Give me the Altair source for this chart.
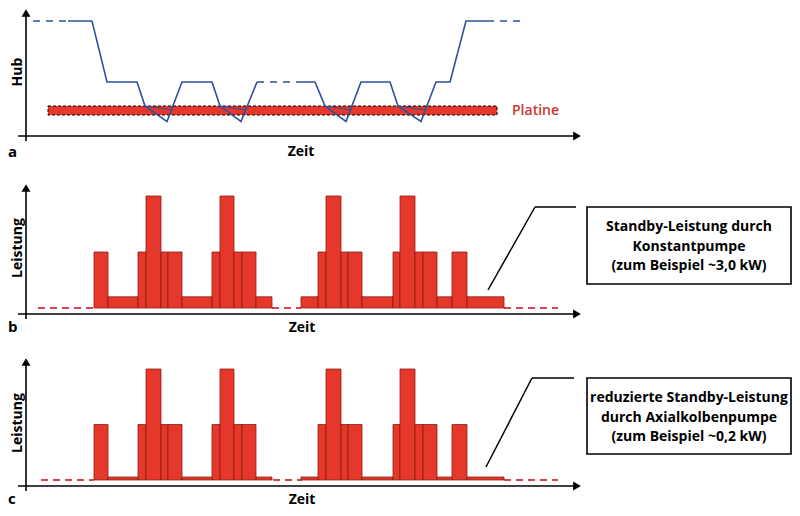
import altair as alt
import pandas as pd

# ---------------- data (time t in arbitrary units) ----------------
# Panel a: stroke ("Hub") of the slide
hub_pre_t = [7, 42]
hub_pre_v = [115, 115]
hub_main1_t = [42, 66, 81, 111, 119, 141, 156, 186, 194, 215, 231]
hub_main1_v = [115, 115, 54, 54, 30, 14.5, 54, 54, 30, 14.5, 54]
hub_mid_t = [231, 274]
hub_mid_v = [54, 54]
hub_main2_t = [274, 289, 299, 320, 335, 364, 372, 395, 410, 424, 440, 461]
hub_main2_v = [54, 54, 30, 14.5, 54, 54, 30, 14.5, 54, 54, 115, 115]
hub_post_t = [461, 496]
hub_post_v = [115, 115]
# contact segments along the platen
contact_t0 = [119, 194, 299, 372]
contact_t1 = [145.6, 219.7, 324.7, 399.7]
contact_v0 = [30, 30, 30, 30]
contact_v1 = [26, 26, 26, 26]
# platen band
platine_t = [22, 471]
platine_v = [21, 30]

# Panels b / c: power ("Leistung") blocks
bar_edges = [68, 82, 112, 120, 135, 142, 156, 186, 194, 208, 216, 230, 246,
             None,
             275, 292, 300, 315, 322, 336, 367, 374, 389, 397, 411, 426, 441, 478]
bar_levels_1 = ["M", "L", "M", "T", "M", "M", "L", "M", "T", "M", "M", "L"]
bar_levels_2 = ["L", "M", "T", "M", "M", "L", "M", "T", "M", "M", "L", "M", "L"]
kw_b = {"L": 3.0, "M": 15, "T": 30}
kw_c = {"L": 0.8, "M": 15, "T": 30}
dash_b_t0 = [12, 246, 478]
dash_b_t1 = [68, 275, 532]
dash_c_t0 = [15, 247, 478]
dash_c_t1 = [68, 276, 532]

box_b_text = ["Standby-Leistung durch", "Konstantpumpe", "(zum Beispiel ~3,0 kW)"]
box_c_text = ["reduzierte Standby-Leistung", "durch Axialkolbenpumpe", "(zum Beispiel ~0,2 kW)"]

# ---------------- tables ----------------
rows = []
for seg, style, ts, vs in [("pre", "dashed", hub_pre_t, hub_pre_v),
                           ("m1", "solid", hub_main1_t, hub_main1_v),
                           ("mid", "dashed", hub_mid_t, hub_mid_v),
                           ("m2", "solid", hub_main2_t, hub_main2_v),
                           ("post", "dashed", hub_post_t, hub_post_v)]:
    for i, (t, v) in enumerate(zip(ts, vs)):
        rows.append({"t": t, "hub": v, "seg": seg, "style": style, "i": i})
hub_df = pd.DataFrame(rows)
contact_df = pd.DataFrame({"t0": contact_t0, "t1": contact_t1, "v0": contact_v0, "v1": contact_v1})
platine_df = pd.DataFrame({"t0": [platine_t[0]], "t1": [platine_t[1]],
                           "v0": [platine_v[0]], "v1": [platine_v[1]]})

first = bar_edges[:bar_edges.index(None)]
second = bar_edges[bar_edges.index(None) + 1:]


def bars(kw):
    r = []
    for edges, levels in [(first, bar_levels_1), (second, bar_levels_2)]:
        for k, lev in enumerate(levels):
            r.append({"t0": edges[k], "t1": edges[k + 1], "kw": kw[lev], "base": 0})
    return pd.DataFrame(r)


bars_b = bars(kw_b)
bars_c = bars(kw_c)
dash_b = pd.DataFrame({"t0": dash_b_t0, "t1": dash_b_t1, "base": 0})
dash_c = pd.DataFrame({"t0": dash_c_t0, "t1": dash_c_t1, "base": 0})

one = pd.DataFrame({"k": [0]})

# ---------------- style ----------------
FONT = "Open Sans"
RED = "#e6372b"
DARKRED = "#8c1c13"
DASHRED = "#d64550"
BLUE = "#2f4f9f"
W = 784
xs = alt.Scale(domain=[0, 556], range=[18, 574])


def axes(y_axis, y_top, y_bottom):
    xr = alt.Chart(one).mark_rule(color="black", strokeWidth=1.6).encode(
        x=alt.value(10), x2=alt.value(566), y=alt.value(y_axis), y2=alt.value(y_axis))
    xa = alt.Chart(one).mark_point(shape="triangle-right", filled=True, size=80, color="black",
                                   opacity=1, strokeWidth=0).encode(
        x=alt.value(569), y=alt.value(y_axis))
    yr = alt.Chart(one).mark_rule(color="black", strokeWidth=1.6).encode(
        x=alt.value(18), x2=alt.value(18), y=alt.value(y_bottom), y2=alt.value(y_top + 4))
    ya = alt.Chart(one).mark_point(shape="triangle-up", filled=True, size=80, color="black",
                                   opacity=1, strokeWidth=0).encode(
        x=alt.value(18), y=alt.value(y_top + 5))
    return [xr, xa, yr, ya]


def label(text, x, y, size=14, angle=0, align="center", baseline="alphabetic",
          color="black", weight="bold"):
    return alt.Chart(one).mark_text(font=FONT, fontSize=size, fontWeight=weight, angle=angle,
                                    align=align, baseline=baseline, color=color).encode(
        x=alt.value(x), y=alt.value(y), text=alt.value(text))


# ---------------- panel a ----------------
ys_a = alt.Scale(domain=[0, 115], range=[128, 13])
platine = alt.Chart(platine_df).mark_rect(fill=RED, stroke="black", strokeWidth=1,
                                          strokeDash=[3, 2]).encode(
    x=alt.X("t0:Q", scale=xs, axis=None), x2="t1:Q",
    y=alt.Y("v0:Q", scale=ys_a, axis=None), y2="v1:Q")
hubline = alt.Chart(hub_df).mark_line(color=BLUE, strokeWidth=1.6).encode(
    x=alt.X("t:Q", scale=xs, axis=None),
    y=alt.Y("hub:Q", scale=ys_a, axis=None),
    detail="seg:N",
    order="i:Q",
    strokeDash=alt.StrokeDash("style:N", scale=alt.Scale(domain=["solid", "dashed"],
                                                         range=[[1, 0], [7, 6]]), legend=None))
contact = alt.Chart(contact_df).mark_rule(color=BLUE, strokeWidth=1.2).encode(
    x=alt.X("t0:Q", scale=xs, axis=None), x2="t1:Q",
    y=alt.Y("v0:Q", scale=ys_a, axis=None), y2="v1:Q")

panel_a = alt.layer(
    *axes(128, 0, 133), platine, hubline, contact,
    label("Platine", 504, 103, size=14, align="left", baseline="middle",
          color="#c8372d", weight=600),
    label("Hub", 10, 64, size=14, angle=270, baseline="middle"),
    label("Zeit", 293, 148),
    label("a", 0, 149, size=15, align="left"),
).properties(width=W, height=164)


# ---------------- panels b / c ----------------
def power_panel(bars_df, dash_df, ys, y_axis, y_top, y_bottom, lead, box, text_y, letter,
                lei_y, text_base, lines):
    rects = alt.Chart(bars_df).mark_rect(fill=RED, stroke=DARKRED, strokeWidth=0.8).encode(
        x=alt.X("t0:Q", scale=xs, axis=None), x2="t1:Q",
        y=alt.Y("kw:Q", scale=ys, axis=None), y2="base:Q")
    dashes = alt.Chart(dash_df).mark_rule(color=DASHRED, strokeWidth=2, strokeDash=[7, 5]).encode(
        x=alt.X("t0:Q", scale=xs, axis=None), x2="t1:Q",
        y=alt.Y("base:Q", scale=ys, axis=None))
    (lx0, ly0), (lx1, ly1), lx2 = lead
    l1 = alt.Chart(one).mark_rule(color="black", strokeWidth=1.5).encode(
        x=alt.value(lx0), y=alt.value(ly0), x2=alt.value(lx1), y2=alt.value(ly1))
    l2 = alt.Chart(one).mark_rule(color="black", strokeWidth=1.5).encode(
        x=alt.value(lx1), y=alt.value(ly1), x2=alt.value(lx2), y2=alt.value(ly1))
    bx0, by0, bx1, by1 = box
    rect = alt.Chart(one).mark_rect(fill="white", stroke="black", strokeWidth=1.6).encode(
        x=alt.value(bx0), x2=alt.value(bx1), y=alt.value(by0), y2=alt.value(by1))
    txt = alt.Chart(one).mark_text(font=FONT, fontSize=14, fontWeight="bold", align="center",
                                   baseline="middle", lineHeight=19.5, color="black").encode(
        x=alt.value((bx0 + bx1) / 2), y=alt.value(text_y), text=alt.value(lines))
    return alt.layer(
        *axes(y_axis, y_top, y_bottom), dashes, rects, l1, l2, rect, txt,
        label("Leistung", 10, lei_y, size=14, angle=270, baseline="middle"),
        label("Zeit", 294, text_base),
        label(letter, 0, text_base, size=15, align="left"),
    )


panel_b = power_panel(bars_b, dash_b, alt.Scale(domain=[0, 30], range=[136, 24]),
                      142, 11, 147, [(480, 118), (527, 35), 568], (579, 35, 783, 112), 55,
                      "b", 76, 160, box_b_text).properties(width=W, height=178)
panel_c = power_panel(bars_c, dash_c, alt.Scale(domain=[0, 30], range=[130, 19]),
                      136, 7, 141, [(478, 117), (524, 28), 566], (579, 28, 783, 104), 48,
                      "c", 73, 154, box_c_text).properties(width=W, height=158)

chart = alt.vconcat(panel_a, panel_b, panel_c, spacing=0, bounds="flush").properties(
    padding=0).configure_view(stroke=None)

chart.save("out.html", embed_options={"renderer": "svg", "actions": False})
